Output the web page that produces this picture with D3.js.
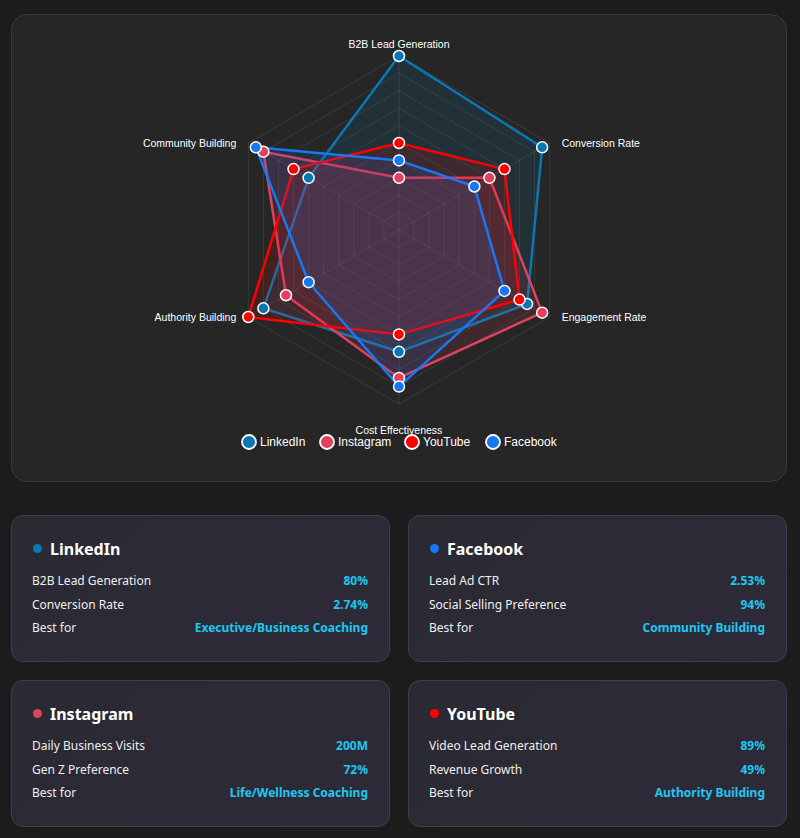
<!DOCTYPE html>
<html><head><meta charset="utf-8">
<script src="https://cdn.jsdelivr.net/npm/d3@7"></script>
<style>
body{margin:0;background:#1c1c1c;font-family:"Noto Sans","Open Sans",sans-serif;width:800px;height:838px;overflow:hidden;position:relative}
.top{position:absolute;left:11px;top:14px;width:774px;height:466px;border-radius:16px;background:#262626;border:1px solid #3a3a3a}
.card{position:absolute;width:379px;height:147px;border-radius:12px;background:linear-gradient(135deg,#2a2a33,#2e2a38);border:1px solid #3e3e52;box-sizing:border-box}
.card h3{margin:0;position:absolute;left:38px;top:22px;font-size:16px;color:#fff;font-weight:700}
.card .dot{position:absolute;left:21px;top:28px;width:9px;height:9px;border-radius:50%}
.row{position:absolute;left:20px;right:21px;font-size:12px;color:#eee;display:flex;justify-content:space-between}
.row b{color:#1ec8f0;font-weight:700}
</style></head><body>
<div class="top"><svg id="c" width="774" height="466"></svg></div>
<div id="cards"></div>
<script>
const axes=["B2B Lead Generation","Conversion Rate","Engagement Rate","Cost Effectiveness","Authority Building","Community Building"];
const seriesNames=["LinkedIn","Instagram","YouTube","Facebook"];
const seriesColors=["#0a77b5","#e1405f","#ff0000","#1877f2"];
const linkedin=[100,95,85,70,90,60];
const instagram=[30,60,95,85,75,90];
const youtube=[50,70,80,60,100,70];
const facebook=[40,50,70,90,60,95];
const allSeries=[linkedin,instagram,youtube,facebook];
const cardTitles=["LinkedIn","Facebook","Instagram","YouTube"];
const cardColors=["#0a77b5","#1877f2","#e1405f","#ff0000"];
const cardLabels=[["B2B Lead Generation","Conversion Rate","Best for"],["Lead Ad CTR","Social Selling Preference","Best for"],["Daily Business Visits","Gen Z Preference","Best for"],["Video Lead Generation","Revenue Growth","Best for"]];
const cardValues=[["80%","2.74%","Executive/Business Coaching"],["2.53%","94%","Community Building"],["200M","72%","Life/Wellness Coaching"],["89%","49%","Authority Building"]];

const svg=d3.select("#c"),cx=387,cy=215,R=174;
const r=d3.scaleLinear().domain([0,100]).range([0,R]);
const ang=d3.scaleLinear().domain([0,axes.length]).range([0,2*Math.PI]);
const pt=(i,v)=>[cx+r(v)*Math.sin(ang(i)),cy-r(v)*Math.cos(ang(i))];
const g=svg.append("g");
d3.range(10,101,10).forEach(l=>{
  g.append("polygon").attr("points",axes.map((a,i)=>pt(i,l).join(",")).join(" ")).attr("fill","none").attr("stroke","rgba(255,255,255,0.09)");
});
axes.forEach((a,i)=>{
  const [x,y]=pt(i,100);
  g.append("line").attr("x1",cx).attr("y1",cy).attr("x2",x).attr("y2",y).attr("stroke","rgba(255,255,255,0.1)");
  const s=Math.sin(ang(i));
  let lx,ly;
  if(i==0){lx=x;ly=y-8;} else if(i==3){lx=x;ly=y+30;} else {lx=x+(s>0?12:-12);ly=y+4;}
  g.append("text").attr("x",lx).attr("y",ly).attr("fill","#fff").attr("font-size",10.5)
   .attr("font-family","Liberation Sans, Arial").attr("text-anchor",Math.abs(s)<0.1?"middle":(s>0?"start":"end")).text(a);
});
allSeries.forEach((d,k)=>{
  const c=d3.color(seriesColors[k]);
  g.append("polygon").attr("points",d.map((v,i)=>pt(i,v).join(",")).join(" "))
   .attr("fill",c.copy({opacity:0.13})).attr("stroke",seriesColors[k]).attr("stroke-width",2.5).attr("stroke-linejoin","round");
});
allSeries.forEach((d,k)=>{
  d.forEach((v,i)=>{const [x,y]=pt(i,v);
    g.append("circle").attr("cx",x).attr("cy",y).attr("r",5.5).attr("fill",seriesColors[k]).attr("stroke","#fff").attr("stroke-width",1.5);});
});
const lx=[237,315,400,481];
seriesNames.forEach((n,k)=>{
  svg.append("circle").attr("cx",lx[k]).attr("cy",427).attr("r",7).attr("fill",seriesColors[k]).attr("stroke","#fff").attr("stroke-width",1.8);
  svg.append("text").attr("x",lx[k]+11).attr("y",431).attr("fill","#fff").attr("font-size",12).attr("font-family","Liberation Sans, Arial").text(n);
});
const pos=[[11,515],[408,515],[11,680],[408,680]];
const cards=d3.select("#cards");
cardTitles.forEach((t,k)=>{
  const c=cards.append("div").attr("class","card").style("left",pos[k][0]+"px").style("top",pos[k][1]+"px");
  c.append("div").attr("class","dot").style("background",cardColors[k]);
  c.append("h3").text(t);
  cardLabels[k].forEach((l,j)=>{
    const rw=c.append("div").attr("class","row").style("top",(56+j*23.5)+"px");
    rw.append("span").text(l);rw.append("b").text(cardValues[k][j]);
  });
});
</script></body></html>
